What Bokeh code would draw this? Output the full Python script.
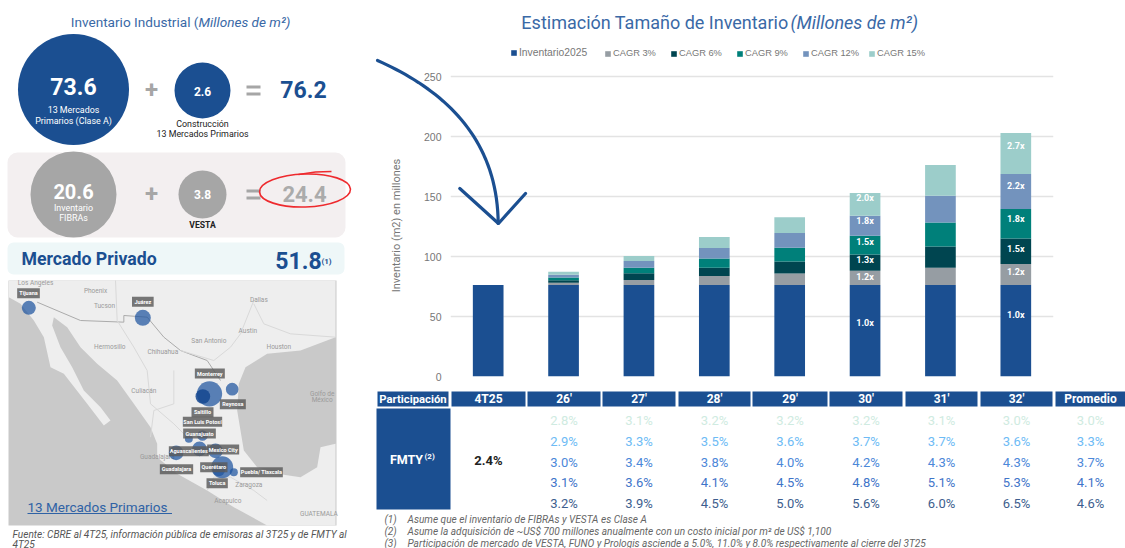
from bokeh.embed import file_html
from bokeh.resources import INLINE
from bokeh.plotting import figure
from bokeh.layouts import row, column
from bokeh.core.properties import value
from bokeh.models import Range1d, Legend, LegendItem, BoxAnnotation, NumeralTickFormatter, ColumnDataSource
import math

# ---------- data ----------
periods = ["4T25", "26'", "27'", "28'", "29'", "30'", "31'", "32'"]
inventario_2025 = [76.2, 76.2, 76.2, 76.2, 76.2, 76.2, 76.2, 76.2]
cagr_3 = [0, 1.9, 4.2, 7.5, 9.7, 11.9, 14.4, 17.5]
cagr_6 = [0, 2.2, 5.6, 6.9, 10.0, 13.6, 17.8, 21.4]
cagr_9 = [0, 2.2, 4.7, 7.8, 11.4, 15.6, 20.0, 24.4]
cagr_12 = [0, 2.2, 5.6, 8.6, 12.2, 16.7, 22.2, 29.2]
cagr_15 = [0, 2.5, 4.2, 9.2, 13.3, 18.9, 25.6, 34.2]
series_names = ["Inventario2025", "CAGR 3%", "CAGR 6%", "CAGR 9%", "CAGR 12%", "CAGR 15%"]
y_ticks = [0, 50, 100, 150, 200, 250]

multiple_periods_30 = ["1.0x", "1.2x", "1.3x", "1.5x", "1.8x", "2.0x"]
multiple_periods_32 = ["1.0x", "1.2x", "1.5x", "1.8x", "2.2x", "2.7x"]

table_headers = ["4T25", "26'", "27'", "28'", "29'", "30'", "31'", "32'", "Promedio"]
share_4t25 = "2.4%"
share_3 = ["2.8%", "3.1%", "3.2%", "3.2%", "3.2%", "3.1%", "3.0%", "3.0%"]
share_6 = ["2.9%", "3.3%", "3.5%", "3.6%", "3.7%", "3.7%", "3.6%", "3.3%"]
share_9 = ["3.0%", "3.4%", "3.8%", "4.0%", "4.2%", "4.3%", "4.3%", "3.7%"]
share_12 = ["3.1%", "3.6%", "4.1%", "4.5%", "4.8%", "5.1%", "5.3%", "4.1%"]
share_15 = ["3.2%", "3.9%", "4.5%", "5.0%", "5.6%", "6.0%", "6.5%", "4.6%"]

market_names = ["Tijuana", "Juárez", "Monterrey", "Reynosa", "Saltillo", "San Luis Potosí", "Guanajuato",
                "Aguascalientes", "Mexico City", "Guadalajara", "Querétaro", "Puebla/ Tlaxcala", "Toluca"]

# ---------- styling ----------
BLUE = "#1B4F91"
TITLE_BLUE = "#3A69A6"
COLORS = ["#1B4F91", "#969DA3", "#004550", "#00807A", "#7393BD", "#9CCDCA"]
FONT = value("Roboto")


def canvas(x0, x1, y0, y1):
    """A frameless figure whose data coordinates are page pixels."""
    f = figure(x_range=Range1d(x0, x1), y_range=Range1d(y1, y0), width=x1 - x0, height=y1 - y0,
               x_axis_location=None, y_axis_location=None, toolbar_location=None,
               output_backend="svg", min_border=0, outline_line_color=None, frame_align=False)
    f.grid.visible = False
    return f


def txt(f, x, y, s, size, color="#333333", align="center", style="normal", font=FONT, angle=0):
    f.text(x=[x], y=[y], text=[s], text_font=font, text_font_size=f"{size}px", text_color=color,
           text_align=align, text_baseline="middle", text_font_style=style, angle=angle)


# the hand-drawn arrow
steps = [i / 40 for i in range(41)]
arrow_x = [(1 - t) ** 3 * 377 + 3 * (1 - t) ** 2 * t * 440 + 3 * (1 - t) * t ** 2 * 497 + t ** 3 * 497.7 for t in steps]
arrow_y = [(1 - t) ** 3 * 60 + 3 * (1 - t) ** 2 * t * 88 + 3 * (1 - t) * t ** 2 * 135 + t ** 3 * 223 for t in steps]
head_x = [459.3, 498, 525]
head_y = [188, 223, 193]

# ---------- left panel ----------
L = canvas(0, 372, 0, 548)

L.add_layout(BoxAnnotation(left=7, right=345, top=152, bottom=237, fill_color="#F3EFF0", fill_alpha=1,
                           line_color=None, border_radius=10, level="underlay"))
L.add_layout(BoxAnnotation(left=7, right=344, top=242, bottom=274, fill_color="#EEF7F8", fill_alpha=1,
                           line_color=None, border_radius=6, level="underlay"))

txt(L, 198, 21, "Inventario Industrial (", 13.6, TITLE_BLUE, "right")
txt(L, 198, 21, "Millones de m²)", 13.6, TITLE_BLUE, "left", "italic")

L.circle(x=[73, 202], y=[89, 90], radius=[55.5, 28], fill_color=BLUE, line_color=None)
L.circle(x=[73, 202], y=[194, 194], radius=[43, 24], fill_color="#A6A6A6", line_color=None)

txt(L, 73, 86, "73.6", 23, "white", style="bold")
txt(L, 73, 109, "13 Mercados", 8.9, "white")
txt(L, 73, 120, "Primarios (Clase A)", 8.9, "white")
txt(L, 202, 91, "2.6", 12, "white", style="bold")
txt(L, 202, 123, "Construcción", 8.9, "#222222")
txt(L, 202, 133, "13 Mercados Primarios", 8.9, "#222222")
txt(L, 73, 191, "20.6", 20, "white", style="bold")
txt(L, 73, 207, "Inventario", 8.9, "white")
txt(L, 73, 217, "FIBRAs", 8.9, "white")
txt(L, 202, 194, "3.8", 12, "white", style="bold")
txt(L, 202, 224, "VESTA", 8.6, "#222222", style="bold")

for yy in (90, 194):
    txt(L, 151, yy - 1, "+", 24, "#A6A6A6", style="bold")
    L.quad(left=[246, 246], right=[260, 260], top=[yy - 5, yy + 2], bottom=[yy - 2, yy + 5],
           fill_color="#A6A6A6", line_color=None)
txt(L, 303, 89, "76.2", 23, BLUE, style="bold")
txt(L, 304, 193, "24.4", 22, "#ABABAB", style="bold")

L.ellipse(x=[304.5], y=[190], width=[91], height=[33], angle=[0.03], fill_color=None, line_color="#EE2A2E", line_width=1.6)
L.line(x=[298, 315, 331], y=[174, 171.5, 171], line_color="#EE2A2E", line_width=1.3)

txt(L, 21, 258, "Mercado Privado", 17.7, BLUE, "left", "bold")
txt(L, 298, 260, "51.8", 23, BLUE, style="bold")
txt(L, 326, 261, "(1)", 8, BLUE, style="bold")

# map: sea, land, borders
L.quad(left=[8], right=[336], top=[280], bottom=[525], fill_color="#C9C9C9", line_color=None)
land_zx = [25, 60, 100, 130, 150, 190, 260, 310, 330, 300, 250, 215, 180, 155, 160, 200, 240, 290, 350, 400, 450, 470,
           470, 530, 620, 700, 800, 1005, 1005, 960, 950, 900, 830, 770, 730, 720, 710, 715, 735, 800, 900, 1005, 1005, 25]
land_zy = [80, 100, 150, 200, 290, 310, 400, 465, 450, 410, 360, 290, 230, 165, 140, 170, 230, 280, 330, 400, 470, 520,
           560, 610, 660, 710, 765, 765, 520, 530, 590, 620, 610, 590, 540, 480, 420, 340, 290, 250, 240, 200, 30, 30]
land_x = [v / 3 for v in land_zx]
land_y = [270 + v / 3 for v in land_zy]
L.patch(x=land_x, y=land_y, fill_color="#EEEEEE", line_color=None)

border_zx = [110, 240, 370, 370, 440, 490, 540, 620, 660]
border_zy = [95, 150, 155, 135, 140, 200, 240, 270, 330]
L.line(x=[v / 3 for v in border_zx], y=[270 + v / 3 for v in border_zy], line_color="#ABABAB", line_width=1)
road_zx = [[345, 350, 400, 440, 450, 520, 560], [520, 520, 460, 450], [760, 720, 690, 640, 540], [760, 790, 870, 1005], [620, 640, 690, 760, 800]]
road_zy = [[30, 150, 230, 300, 400, 460, 500], [300, 400, 420, 500], [90, 190, 230, 270, 240], [100, 160, 190, 200], [660, 620, 620, 660, 690]]
L.multi_line(xs=[[v / 3 for v in r] for r in road_zx], ys=[[270 + v / 3 for v in r] for r in road_zy],
             line_color="#D9D9D9", line_width=1)

map_places = ["Los Angeles", "Phoenix", "Tucson", "Dallas", "Austin", "San Antonio", "Houston", "Chihuahua",
              "Hermosillo", "Guadalajara", "Zaragoza", "Culiacán", "Golfo de", "México", "GUATEMALA", "Acapulco"]
place_zx = [105, 285, 312, 775, 742, 625, 835, 487, 328, 470, 745, 430, 965, 965, 955, 682]
place_zy = [36, 60, 107, 87, 182, 212, 230, 244, 228, 558, 642, 362, 370, 388, 730, 690]
for n, zx, zy in zip(map_places, place_zx, place_zy):
    txt(L, zx / 3, 270 + zy / 3, n, 6.5, "#9A9A9A")

bubble_zx = [85, 427, 627, 695, 606, 565, 597, 527, 645, 665, 655, 700]
bubble_zy = [112, 142, 370, 356, 495, 505, 535, 547, 541, 590, 598, 605]
bubble_zr = [21, 24, 38, 19, 16, 12, 22, 22, 22, 33, 19, 12]
L.circle(x=[v / 3 for v in bubble_zx], y=[270 + v / 3 for v in bubble_zy], radius=[v / 3 for v in bubble_zr],
         fill_color="#1F55A0", fill_alpha=0.72, line_color=None)
L.circle(x=[607 / 3], y=[270 + 378 / 3], radius=[22 / 3], fill_color="#14468F", fill_alpha=0.85, line_color=None)

label_zx = [84, 427, 628, 697, 606, 606, 597, 565, 668, 528, 640, 783, 650]
label_zy = [68, 94, 309, 401, 425, 454, 489, 542, 537, 596, 590, 605, 638]
label_zw = [68, 65, 90, 78, 66, 118, 98, 120, 96, 100, 82, 128, 64]
L.rect(x=[v / 3 for v in label_zx], y=[270 + v / 3 for v in label_zy], width=[v / 3 for v in label_zw],
       height=[10] * 13, fill_color="#5A5A5A", fill_alpha=0.82, line_color=None)
for n, zx, zy in zip(market_names, label_zx, label_zy):
    txt(L, zx / 3, 270 + zy / 3, n, 5.5, "white", style="bold")

txt(L, 27, 506, "13 Mercados Primarios", 13.5, "#2F62A5", "left")
L.line(x=[27, 171.5], y=[513, 513], line_color="#2F62A5", line_width=1.2)

txt(L, 12, 534, "Fuente: CBRE al 4T25, información pública de emisoras al 3T25 y de FMTY al", 10.1, "#555555", "left", "italic")
txt(L, 12, 543.5, "4T25", 10.1, "#555555", "left", "italic")

# ---------- chart ----------
slots = [i + 0.5 for i in range(len(periods))]
source = ColumnDataSource(dict(slot=slots, inv=inventario_2025, c3=cagr_3, c6=cagr_6, c9=cagr_9, c12=cagr_12, c15=cagr_15))
C = figure(x_range=Range1d(0, len(periods)), y_range=Range1d(0, 376 / 1.2), width=753, height=388,
           toolbar_location=None, output_backend="svg", outline_line_color=None, frame_align=False,
           min_border_left=78, min_border_right=72, min_border_top=0, min_border_bottom=12,
           x_axis_location=None)
C.extra_x_ranges = {"px": Range1d(450, 1053)}
C.extra_y_ranges = {"py": Range1d(376, 0)}
C.xgrid.visible = False
C.ygrid.grid_line_color = "#E3E3E3"
C.ygrid.grid_line_width = 1.5
C.yaxis.ticker = y_ticks
C.yaxis.formatter = NumeralTickFormatter(format="0")
C.yaxis.axis_line_color = None
C.yaxis.major_tick_line_color = None
C.yaxis.minor_tick_line_color = None
C.yaxis.major_tick_out = 0
C.yaxis.major_label_text_color = "#777777"
C.yaxis.major_label_text_font = "Liberation Sans"
C.yaxis.major_label_text_font_size = "10.5px"
C.yaxis.major_label_standoff = 9

stack = C.vbar_stack(["inv", "c3", "c6", "c9", "c12", "c15"], x="slot", width=0.407, color=COLORS, source=source, line_color=None)
legend_x = [60, 154, 220, 286, 352, 418]
for n, r, lx in zip(series_names, stack, legend_x):
    C.add_layout(Legend(items=[LegendItem(label=n, renderers=[r])], orientation="horizontal", location=(lx, 318),
                        background_fill_alpha=0, border_line_color=None, glyph_width=7, glyph_height=7,
                        label_standoff=2, padding=0, margin=0, label_text_font="Liberation Sans",
                        label_text_font_size="10.3px" if n == series_names[0] else "9.3px",
                        label_text_color="#777777", label_height=10))

anchors_30 = [45, 83, 97, 112, 130, 149]
anchors_32 = [51, 87, 106, 131, 159, 192]
C.text(x=[slots[5]] * 6 + [slots[7]] * 6, y=anchors_30 + anchors_32, text=multiple_periods_30 + multiple_periods_32,
       text_font=FONT, text_font_style="bold", text_font_size="9px", text_color="white",
       text_align="center", text_baseline="middle")

C.text(x=[788], y=[21.5], text=["Estimación Tamaño de Inventario"], x_range_name="px", y_range_name="py", text_font=FONT,
       text_font_size="18px", text_color=TITLE_BLUE, text_align="right", text_baseline="middle")
C.text(x=[790], y=[21.5], text=["(Millones de m²)"], x_range_name="px", y_range_name="py", text_font=FONT,
       text_font_style="italic", text_font_size="18px", text_color=TITLE_BLUE, text_align="left", text_baseline="middle")

# y-axis title, anchored on the frame and offset into the axis margin so that it sits level with the reference
C.text(x=[451], y=[225], text=["Inventario (m2) en millones"], x_range_name="px", y_range_name="py", x_offset=-55,
       text_font=FONT, text_font_size="11px", text_color="#777777", text_align="center", text_baseline="middle",
       angle=math.pi / 2, level="overlay")

C.line(x=arrow_x, y=arrow_y, x_range_name="px", y_range_name="py", line_color=BLUE, line_width=3.2, line_cap="round", level="overlay")
C.line(x=head_x, y=head_y, x_range_name="px", y_range_name="py", line_color=BLUE, line_width=3.2, line_cap="round", level="overlay")

# ---------- table ----------
T = canvas(372, 1125, 388, 548)
head_left = [451, 527, 602, 678, 752, 829, 905, 980, 1055]
head_right = [525, 600, 675, 750, 827, 902, 977, 1052, 1125]
T.quad(left=[377] + head_left, right=[448] + head_right, top=[391] * 10, bottom=[406] * 10, fill_color=BLUE, line_color=None)
T.quad(left=[376], right=[450], top=[408], bottom=[509], fill_color=BLUE, line_color=None)
txt(T, 412.5, 398.5, "Participación", 11.3, "white", style="bold")
for s, a, b in zip(table_headers, head_left, head_right):
    txt(T, (a + b) / 2, 398.5, s, 12, "white", style="bold")
txt(T, 406, 459, "FMTY", 12.5, "white", style="bold")
txt(T, 424, 456, "(2)", 8, "white", style="bold", align="left")
txt(T, 488, 460, share_4t25, 13, "#222222", style="bold")
rows = [(420, share_3, "#CFEBE1"), (441, share_6, "#6DBBF5"), (462, share_9, "#4C88D9"), (482, share_12, "#3F75C9"), (503, share_15, "#3D5E8E")]
cols = [(a + b) / 2 for a, b in zip(head_left[1:], head_right[1:])]
for yy, vals, col in rows:
    for cx, s in zip(cols, vals):
        txt(T, cx, yy, s, 13, col)

notes = ["Asume que el inventario de FIBRAs y VESTA es Clase A",
         "Asume la adquisición de ~US$ 700 millones anualmente con un costo inicial por m² de US$ 1,100",
         "Participación de mercado de VESTA, FUNO y Prologis asciende a 5.0%, 11.0% y 8.0% respectivamente al cierre del  3T25"]
for i, n in enumerate(notes):
    yy = 519 + i * 12
    txt(T, 384, yy, f"({i + 1})", 10.1, "#666666", "left", "italic")
    txt(T, 407, yy, n, 10.1, "#666666", "left", "italic")

page = row(L, column(C, T, spacing=0), spacing=0)
open("out.html", "w").write(file_html(page, INLINE))
